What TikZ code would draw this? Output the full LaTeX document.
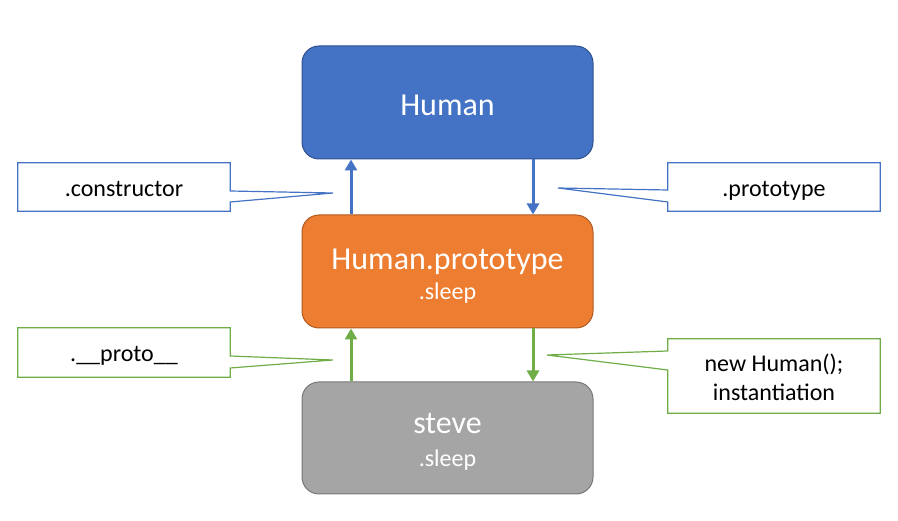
\documentclass[tikz,border=0pt]{standalone}
\usepackage{fontspec}
\setmainfont{Carlito}
\usetikzlibrary{arrows.meta}
\definecolor{cblue}{HTML}{4472C4}
\definecolor{cbluedk}{HTML}{2F528F}
\definecolor{corange}{HTML}{ED7D31}
\definecolor{corangedk}{HTML}{AE5A21}
\definecolor{cgray}{HTML}{A5A5A5}
\definecolor{cgraydk}{HTML}{787878}
\definecolor{cgreen}{HTML}{70AD47}
\tikzset{
  objbox/.style={rounded corners=17pt, minimum width=291pt, minimum height=112pt, line width=1pt, inner sep=0pt},
  bigtxt/.style={text=white, font=\fontsize{32}{38}\selectfont, anchor=base, inner sep=0pt},
  subtxt/.style={text=white, font=\fontsize{24}{29}\selectfont, anchor=base, inner sep=0pt},
  calltxt/.style={text=black, font=\fontsize{24}{29}\selectfont, anchor=base, inner sep=0pt},
  callbox/.style={minimum width=212pt, inner sep=0pt},
  callout/.style={fill=white, line width=1.2pt, line join=miter},
  link/.style={line width=3pt, -{Triangle[width=12pt,length=11pt]}},
}
\begin{document}
\begin{tikzpicture}[x=1pt,y=-1pt]
\useasboundingbox (0,0) rectangle (898,521);
% main boxes
\node[objbox, fill=cblue, draw=cbluedk] (human) at (447.5,102.5) [minimum height=113pt] {};
\node[objbox, fill=corange, draw=corangedk] (proto) at (447.5,271.5) [minimum height=113pt] {};
\node[objbox, fill=cgray, draw=cgraydk] (steve) at (447.5,438) {};
\node[bigtxt] (thuman) at (447.5,116) {Human};
\node[bigtxt] (tproto) at (447.5,270) {Human.prototype};
\node[subtxt] (tpsleep) at (447.5,300) {.sleep};
\node[bigtxt] (tsteve) at (447.5,434) {steve};
\node[subtxt] (tssleep) at (447.5,467) {.sleep};
% arrow coordinates
\coordinate (xl) at (351,0);
\coordinate (xr) at (533,0);
\draw[link, draw=cblue, fill=cblue] (proto.north -| xl) -- (human.south -| xl);
\draw[link, draw=cblue, fill=cblue] (human.south -| xr) -- (proto.north -| xr);
\draw[link, draw=cgreen, fill=cgreen] (steve.north -| xl) -- (proto.south -| xl);
\draw[link, draw=cgreen, fill=cgreen] (proto.south -| xr) -- (steve.north -| xr);
% callout: .constructor
\node[callbox, minimum height=48pt] (cc) at (124,187) {};
\coordinate (cctip) at (333,193);
\draw[callout, draw=cblue] (cc.north west) -- (cc.north east) -- (cc.east |- 0,191) -- (cctip) -- (cc.east |- 0,202) -- (cc.south east) -- (cc.south west) -- cycle;
\node[calltxt] (tcc) at (124,197) {.constructor};
% callout: .prototype
\node[callbox, minimum height=48pt] (cp) at (774,187) {};
\coordinate (cptip) at (558,188);
\draw[callout, draw=cblue] (cp.north west) -- (cp.north east) -- (cp.south east) -- (cp.south west) -- (cp.west |- 0,202) -- (cptip) -- (cp.west |- 0,190) -- cycle;
\node[calltxt] (tcp) at (774,197) {.prototype};
% callout: .__proto__
\node[callbox, minimum height=49pt] (cu) at (124,352.5) {};
\coordinate (cutip) at (333,360);
\draw[callout, draw=cgreen] (cu.north west) -- (cu.north east) -- (cu.east |- 0,356) -- (cutip) -- (cu.east |- 0,368) -- (cu.south east) -- (cu.south west) -- cycle;
\node[calltxt] (tcu) at (124,362) {.\_\_proto\_\_};
% callout: new Human();
\node[callbox, minimum height=74pt] (cn) at (774,376) {};
\coordinate (cntip) at (547,355);
\draw[callout, draw=cgreen] (cn.north west) -- (cn.north east) -- (cn.south east) -- (cn.south west) -- (cn.west |- 0,370) -- (cntip) -- (cn.west |- 0,351) -- cycle;
\node[calltxt] (tcn1) at (774,372) {new Human();};
\node[calltxt] (tcn2) at (774,401) {instantiation};
\end{tikzpicture}
\end{document}
